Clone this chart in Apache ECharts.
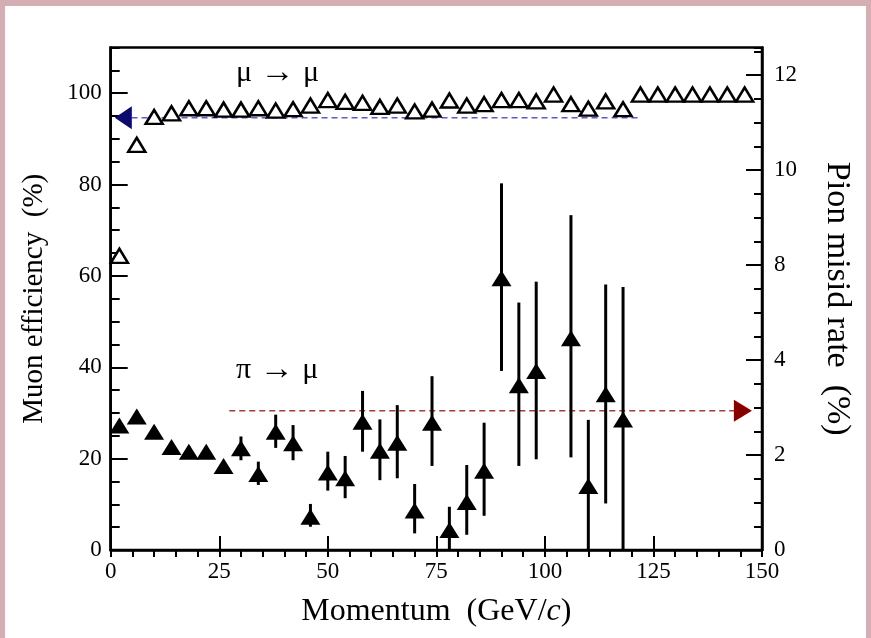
<!DOCTYPE html>
<html>
<head>
<meta charset="utf-8">
<script src="https://cdn.jsdelivr.net/npm/echarts@6/dist/echarts.min.js"></script>
<style>
  html, body { margin: 0; padding: 0; background: #d3afb3; }
  #frame {
    position: absolute; left: 0; top: 0; width: 871px; height: 638px;
    box-sizing: border-box; background: #fff;
    border-left: 5px solid #d3afb3; border-top: 6px solid #d3afb3; border-right: 5px solid #d3afb3;
  }
  #chart { width: 861px; height: 632px; }
</style>
</head>
<body>
<div id="frame"><div id="chart"></div></div>
<script>
// Momentum bin centres (GeV/c)
const momentum = [2, 6, 10, 14, 18, 22, 26, 30, 34, 38, 42, 46, 50, 54, 58, 62, 66, 70, 74,
                  78, 82, 86, 90, 94, 98, 102, 106, 110, 114, 118, 122, 126, 130, 134, 138, 142, 146];

// Muon identification efficiency (%), left axis
const muonEff = [64.4, 88.7, 94.8, 95.6, 96.7, 96.7, 96.4, 96.4, 96.7, 96.2, 96.5, 97.3, 98.5,
                 98.1, 97.9, 97.0, 97.3, 96.0, 96.4, 98.4, 97.3, 97.6, 98.5, 98.5, 98.2, 99.7,
                 97.6, 96.6, 98.2, 96.5, 99.7, 99.7, 99.7, 99.7, 99.7, 99.7, 99.7];

// Pion misidentification rate (%), right axis, with error bar bounds
const pionRate = [2.62, 2.81, 2.49, 2.17, 2.07, 2.07, 1.77, 2.14, 1.60, 2.49, 2.25, 0.70, 1.63,
                  1.51, 2.70, 2.09, 2.26, 0.83, 2.68, 0.42, 1.01, 1.67, 5.72, 3.47, 3.77, null,
                  4.46, 1.35, 3.28, 2.75];
const pionLow  = [2.50, 2.70, 2.38, 2.06, 1.96, 1.96, 1.62, 1.89, 1.37, 2.15, 1.89, 0.49, 1.25,
                  1.09, 2.07, 1.47, 1.51, 0.35, 1.77, 0.00, 0.32, 0.72, 3.77, 1.77, 1.91, null,
                  1.95, 0.00, 0.98, 0.00];
const pionHigh = [2.74, 2.93, 2.60, 2.28, 2.18, 2.18, 1.88, 2.39, 1.86, 2.85, 2.63, 0.97, 2.07,
                  1.98, 3.35, 2.75, 3.05, 1.39, 3.66, 0.91, 1.79, 2.68, 7.72, 5.21, 5.65, null,
                  7.05, 2.74, 5.59, 5.54];

// Average levels marked by the dashed arrows
const muonRefLevel = 94.6;
const muonRefRange = [4.8, 121.5];
const muonArrowAt = 2.9;
const pionRefLevel = 2.93;
const pionRefRange = [27.3, 143.6];
const pionArrowAt = 145.6;

// Tick labels
const xTickLabels = ['0', '25', '50', '75', '100', '125', '150'];
const leftTickLabels = ['0', '20', '40', '60', '80', '100'];
const rightTickLabels = ['0', '2', '4', '8', '10', '12'];

const SERIF = '"Liberation Serif", "DejaVu Serif", serif';
const BLACK = '#000';

const muonPoints = momentum.map((m, i) => [m, muonEff[i]]);
const pionPoints = [];
const pionBars = [];
pionRate.forEach((v, i) => {
  if (v === null) return;
  pionPoints.push([momentum[i], v]);
  pionBars.push([momentum[i], pionLow[i], pionHigh[i]]);
});

const chart = echarts.init(document.getElementById('chart'), null, { renderer: 'canvas' });

const baseLabel = { fontFamily: SERIF, fontSize: 23, color: BLACK };

// Label for the reaction channels: Greek letters with a long arrow
function channelText(left, top, from) {
  return {
    type: 'text', left: left, top: top,
    style: {
      text: '{g|' + from + '}{a| → }{g|μ}',
      rich: {
        g: { font: '30px ' + SERIF, fill: BLACK },
        a: { font: '34px ' + SERIF, fill: BLACK }
      }
    }
  };
}

chart.setOption({
  animation: false,
  backgroundColor: '#fff',
  grid: {
    left: 105.7, top: 41.5, right: 104, bottom: 88,
    show: true, borderColor: BLACK, borderWidth: 2.5, backgroundColor: 'transparent'
  },
  xAxis: [
    {
      type: 'value', min: 0, max: 150, interval: 25,
      axisLine: { lineStyle: { color: BLACK, width: 2.5 } },
      axisTick: { inside: true, length: 14, lineStyle: { color: BLACK, width: 2 } },
      splitLine: { show: false },
      axisLabel: Object.assign({}, baseLabel, {
        margin: 10,
        formatter: v => xTickLabels[Math.round(v / 25)] ?? ''
      }),
      name: 'Momentum  (GeV/{i|c})',
      nameLocation: 'middle',
      nameGap: 46,
      nameTextStyle: {
        fontFamily: SERIF, fontSize: 32, color: BLACK,
        rich: { i: { fontFamily: SERIF, fontSize: 32, fontStyle: 'italic', color: BLACK } }
      }
    },
    {
      type: 'value', min: 0, max: 150, interval: 5,
      axisLine: { show: false },
      axisTick: { inside: true, length: 7, lineStyle: { color: BLACK, width: 2 } },
      axisLabel: { show: false },
      splitLine: { show: false }
    }
  ],
  yAxis: [
    {
      type: 'value', position: 'left', min: 0, max: 110, interval: 20,
      axisLine: { show: true, lineStyle: { color: BLACK, width: 2.5 } },
      axisTick: { show: true, inside: true, length: 17, lineStyle: { color: BLACK, width: 2 } },
      splitLine: { show: false },
      axisLabel: Object.assign({}, baseLabel, {
        margin: 9, showMaxLabel: false,
        formatter: v => leftTickLabels[Math.round(v / 20)] ?? ''
      }),
      name: 'Muon efficiency  (%)',
      nameLocation: 'middle',
      nameGap: 62,
      nameRotate: 90,
      nameTextStyle: { fontFamily: SERIF, fontSize: 29, color: BLACK }
    },
    {
      type: 'value', position: 'left', min: 0, max: 110, interval: 5,
      axisLine: { show: false },
      axisTick: { show: true, inside: true, length: 9, lineStyle: { color: BLACK, width: 2 } },
      axisLabel: { show: false },
      splitLine: { show: false }
    },
    {
      type: 'value', position: 'right', min: 0, max: 10.58, interval: 2,
      axisLine: { show: true, lineStyle: { color: BLACK, width: 2.5 } },
      axisTick: { show: true, inside: true, length: 16, lineStyle: { color: BLACK, width: 2 } },
      splitLine: { show: false },
      axisLabel: Object.assign({}, baseLabel, {
        margin: 12, showMaxLabel: false,
        formatter: v => rightTickLabels[Math.round(v / 2)] ?? ''
      }),
      name: 'Pion misid rate  (%)',
      nameLocation: 'middle',
      nameGap: 58,
      nameRotate: -90,
      nameTextStyle: { fontFamily: SERIF, fontSize: 34, color: BLACK }
    },
    {
      type: 'value', position: 'right', min: 0, max: 10.58, interval: 0.5,
      axisLine: { show: false },
      axisTick: { show: true, inside: true, length: 8, lineStyle: { color: BLACK, width: 2 } },
      axisLabel: { show: false },
      splitLine: { show: false }
    }
  ],
  graphic: [
    channelText(231, 50, 'μ'),
    channelText(231, 347, 'π')
  ],
  series: [
    {
      name: 'muon level', type: 'line', xAxisIndex: 0, yAxisIndex: 0, z: 1,
      data: [[muonRefRange[0], muonRefLevel], [muonRefRange[1], muonRefLevel]],
      symbol: 'none', silent: true,
      lineStyle: { color: '#5a5ac8', width: 1.5, type: [6, 4] }
    },
    {
      name: 'muon arrow', type: 'scatter', xAxisIndex: 0, yAxisIndex: 0, z: 3,
      data: [[muonArrowAt, muonRefLevel]],
      symbol: 'triangle', symbolRotate: 90, symbolSize: [23, 17],
      itemStyle: { color: '#0a0a70', opacity: 1 }
    },
    {
      name: 'pion level', type: 'line', xAxisIndex: 0, yAxisIndex: 2, z: 1,
      data: [[pionRefRange[0], pionRefLevel], [pionRefRange[1], pionRefLevel]],
      symbol: 'none', silent: true,
      lineStyle: { color: '#a83c3c', width: 1.5, type: [6, 4] }
    },
    {
      name: 'pion arrow', type: 'scatter', xAxisIndex: 0, yAxisIndex: 2, z: 3,
      data: [[pionArrowAt, pionRefLevel]],
      symbol: 'triangle', symbolRotate: -90, symbolSize: [22, 18],
      itemStyle: { color: '#860000', opacity: 1 }
    },
    {
      name: 'pion errors', type: 'custom', xAxisIndex: 0, yAxisIndex: 2, z: 2,
      data: pionBars,
      renderItem: (params, api) => {
        const lo = api.coord([api.value(0), api.value(1)]);
        const hi = api.coord([api.value(0), api.value(2)]);
        return {
          type: 'line',
          shape: { x1: lo[0], y1: lo[1], x2: hi[0], y2: hi[1] },
          style: { stroke: BLACK, lineWidth: 3 }
        };
      }
    },
    {
      name: 'π → μ', type: 'scatter', xAxisIndex: 0, yAxisIndex: 2, z: 4,
      data: pionPoints,
      symbol: 'triangle', symbolSize: [20, 16],
      itemStyle: { color: BLACK, opacity: 1 }
    },
    {
      name: 'μ → μ', type: 'scatter', xAxisIndex: 0, yAxisIndex: 0, z: 4,
      data: muonPoints,
      symbol: 'triangle', symbolSize: [17, 14],
      itemStyle: { color: '#fff', borderColor: BLACK, borderWidth: 2.5, opacity: 1 }
    }
  ]
});
</script>
</body>
</html>
